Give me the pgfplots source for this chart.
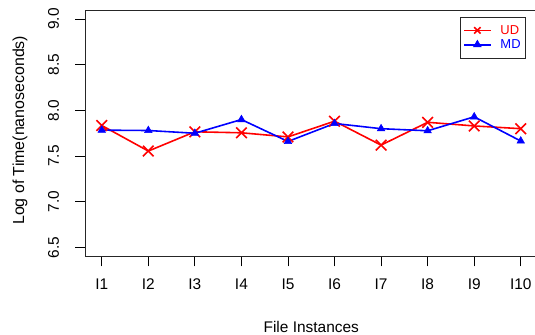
\documentclass[border=0pt]{standalone}
\usepackage{fontspec}
\setmainfont{Liberation Sans}
\usepackage{pgfplots}
\pgfplotsset{compat=1.18}
\begin{document}
\begin{tikzpicture}
\begin{axis}[
  at={(85bp,78.5bp)}, anchor=south west,
  scale only axis, width=452.5bp, height=246.5bp,
  xmin=0.64, xmax=10.36, ymin=6.4, ymax=9.1,
  xtick={1,2,3,4,5,6,7,8,9,10},
  xticklabels={I1,I2,I3,I4,I5,I6,I7,I8,I9,I10},
  ytick={6.5,7.0,7.5,8.0,8.5,9.0},
  yticklabel style={/pgf/number format/fixed, /pgf/number format/fixed zerofill, /pgf/number format/precision=1, rotate=90, anchor=base},
  /pgf/number format/assume math mode=true,
  tick align=outside, major tick length=10bp,
  xtick pos=bottom, ytick pos=left,
  every tick/.style={black, line width=0.8pt},
  axis line style={black!85, line width=0.8pt},
  ticklabel style={font=\fontsize{15.5}{18}\selectfont},
  yticklabel shift=16bp,
  xticklabel style={anchor=base},
  xticklabel shift=23bp,
  xlabel={File Instances},
  ylabel={Log of Time(nanoseconds)},
  xlabel style={font=\fontsize{15.5}{18}\selectfont, at={(axis description cs:0.5,0)}, anchor=base, yshift=-75.5bp},
  ylabel style={font=\fontsize{16}{18}\selectfont, at={(axis description cs:-0.1348,0.512)}, anchor=base, rotate=0},
  legend style={at={(axis description cs:0.9746,0.9728)}, anchor=north east, draw=black!85, line width=0.8pt,
    font=\fontsize{13}{15}\selectfont, inner xsep=3bp, inner ysep=6bp, row sep=0bp,
    nodes={inner sep=2bp},
    /tikz/every odd column/.append style={column sep=7bp}},
  legend cell align=left,
  legend image code/.code={\draw[mark size=4.5bp, mark repeat=2, mark phase=2] plot coordinates {(0bp,0bp) (13.3bp,0bp) (26.6bp,0bp)};},
  clip=false,
]
\addplot[red, line width=1.6pt, mark=x, mark size=7.5bp, mark options={line width=1.6pt}] coordinates {
(1,7.835) (2,7.555) (3,7.766) (4,7.755) (5,7.71) (6,7.882) (7,7.62) (8,7.87) (9,7.83) (10,7.80)};
\addlegendentry{\textcolor{red}{UD}}
\addplot[blue, line width=1.6pt, mark=triangle*, mark size=4.4bp, mark options={line width=0.5pt}] coordinates {
(1,7.784) (2,7.78) (3,7.75) (4,7.90) (5,7.66) (6,7.857) (7,7.80) (8,7.777) (9,7.93) (10,7.665)};
\addlegendentry{\textcolor{blue}{MD}}
\end{axis}
\pgfresetboundingbox
\path[use as bounding box] (0,0) rectangle (535bp,335bp);
\end{tikzpicture}
\end{document}
